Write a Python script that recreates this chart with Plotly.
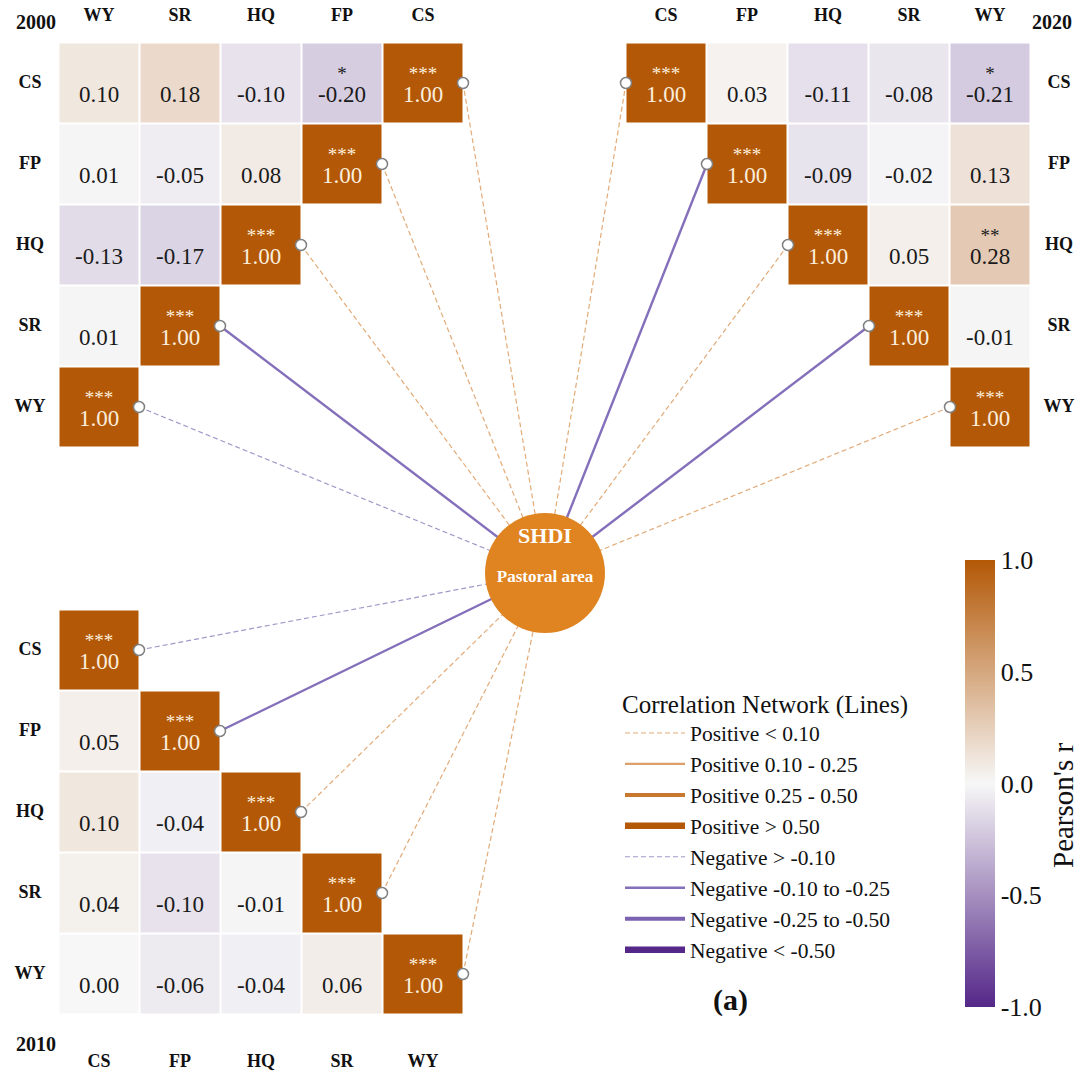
import plotly.graph_objects as go

# ---------------- data ----------------
VARS = ["CS", "FP", "HQ", "SR", "WY"]

cols_2000 = ["WY", "SR", "HQ", "FP", "CS"]
rows_2000 = ["CS", "FP", "HQ", "SR", "WY"]
r_2000 = [
    [0.10, 0.18, -0.10, -0.20, 1.00],
    [0.01, -0.05, 0.08, 1.00, None],
    [-0.13, -0.17, 1.00, None, None],
    [0.01, 1.00, None, None, None],
    [1.00, None, None, None, None],
]
sig_2000 = [
    ["", "", "", "*", "***"],
    ["", "", "", "***", ""],
    ["", "", "***", "", ""],
    ["", "***", "", "", ""],
    ["***", "", "", "", ""],
]

cols_2020 = ["CS", "FP", "HQ", "SR", "WY"]
rows_2020 = ["CS", "FP", "HQ", "SR", "WY"]
r_2020 = [
    [1.00, 0.03, -0.11, -0.08, -0.21],
    [None, 1.00, -0.09, -0.02, 0.13],
    [None, None, 1.00, 0.05, 0.28],
    [None, None, None, 1.00, -0.01],
    [None, None, None, None, 1.00],
]
sig_2020 = [
    ["***", "", "", "", "*"],
    ["", "***", "", "", ""],
    ["", "", "***", "", "**"],
    ["", "", "", "***", ""],
    ["", "", "", "", "***"],
]

cols_2010 = ["CS", "FP", "HQ", "SR", "WY"]
rows_2010 = ["CS", "FP", "HQ", "SR", "WY"]
r_2010 = [
    [1.00, None, None, None, None],
    [0.05, 1.00, None, None, None],
    [0.10, -0.04, 1.00, None, None],
    [0.04, -0.10, -0.01, 1.00, None],
    [0.00, -0.06, -0.04, 0.06, 1.00],
]
sig_2010 = [
    ["***", "", "", "", ""],
    ["", "***", "", "", ""],
    ["", "", "***", "", ""],
    ["", "", "", "***", ""],
    ["", "", "", "", "***"],
]

# SHDI (pastoral area) correlation with each service, estimated from line styles
shdi_2000 = [0.05, 0.04, 0.06, -0.15, -0.05]
shdi_2010 = [-0.06, -0.14, 0.07, 0.05, 0.03]
shdi_2020 = [0.05, -0.16, 0.04, -0.13, 0.06]

line_class_names = [
    "Positive < 0.10", "Positive 0.10 - 0.25", "Positive 0.25 - 0.50", "Positive > 0.50",
    "Negative > -0.10", "Negative -0.10 to -0.25", "Negative -0.25 to -0.50", "Negative < -0.50",
]
cbar_ticks = [-1.0, -0.5, 0.0, 0.5, 1.0]

# ---------------- styling / layout constants ----------------
W, H = 1080, 1074
PITCH = 81
HALF = 40
SERIF = "Liberation Serif, Times New Roman, serif"
CENTER = (545, 573)
COLORSCALE = [[0.0, "#542788"], [0.5, "#f7f7f7"], [1.0, "#b35806"]]

line_styles = [
    dict(color="#e2ab78", width=1.2, dash="5px,3px"),
    dict(color="#dea06a", width=2.2, dash="solid"),
    dict(color="#c9782f", width=4, dash="solid"),
    dict(color="#b35806", width=6.5, dash="solid"),
    dict(color="#a498c8", width=1.2, dash="5px,3px"),
    dict(color="#836fba", width=2.4, dash="solid"),
    dict(color="#7a62b0", width=4, dash="solid"),
    dict(color="#542788", width=6.5, dash="solid"),
]


def classify(r):
    if r >= 0:
        if r < 0.10:
            return 0
        if r < 0.25:
            return 1
        if r < 0.50:
            return 2
        return 3
    if r > -0.10:
        return 4
    if r > -0.25:
        return 5
    if r > -0.50:
        return 6
    return 7


panels = [
    dict(year="2000", cols=cols_2000, rows=rows_2000, r=r_2000, sig=sig_2000, shdi=shdi_2000,
         origin=(99, 83), conn_side=1, col_label_y=16, row_label_x=30, year_pos=(36, 24)),
    dict(year="2020", cols=cols_2020, rows=rows_2020, r=r_2020, sig=sig_2020, shdi=shdi_2020,
         origin=(666, 83), conn_side=-1, col_label_y=16, row_label_x=1059, year_pos=(1052, 24)),
    dict(year="2010", cols=cols_2010, rows=rows_2010, r=r_2010, sig=sig_2010, shdi=shdi_2010,
         origin=(99, 650), conn_side=1, col_label_y=1062, row_label_x=30, year_pos=(36, 1046)),
]

fig = go.Figure()

# heatmaps
for p in panels:
    ox, oy = p["origin"]
    fig.add_trace(go.Heatmap(
        z=p["r"], x0=ox, dx=PITCH, y0=oy, dy=PITCH,
        coloraxis="coloraxis", xgap=2, ygap=2, hoverinfo="skip",
    ))

# network lines grouped by class
seg_x = [[] for _ in line_class_names]
seg_y = [[] for _ in line_class_names]
conn_x, conn_y = [], []
for p in panels:
    ox, oy = p["origin"]
    for i, rv in enumerate(p["rows"]):
        j = p["cols"].index(rv)
        px = ox + j * PITCH + p["conn_side"] * HALF
        py = oy + i * PITCH
        k = VARS.index(rv)
        c = classify(p["shdi"][k])
        seg_x[c] += [px, CENTER[0], None]
        seg_y[c] += [py, CENTER[1], None]
        conn_x.append(px)
        conn_y.append(py)

for c, name in enumerate(line_class_names):
    st = line_styles[c]
    fig.add_trace(go.Scatter(
        x=seg_x[c] if seg_x[c] else [None], y=seg_y[c] if seg_y[c] else [None],
        mode="lines", name=name, line=st, hoverinfo="skip", showlegend=True,
    ))

# connector dots
fig.add_trace(go.Scatter(
    x=conn_x, y=conn_y, mode="markers", showlegend=False, hoverinfo="skip",
    marker=dict(size=11, color="white", line=dict(color="#808080", width=1.5)),
))

# cell texts
for p in panels:
    ox, oy = p["origin"]
    nx, ny, nt, nc = [], [], [], []
    sx, sy, stt, sc = [], [], [], []
    for i, rv in enumerate(p["rows"]):
        for j, cv in enumerate(p["cols"]):
            v = p["r"][i][j]
            if v is None:
                continue
            diag = rv == cv
            nx.append(ox + j * PITCH)
            ny.append(oy + i * PITCH + 13)
            nt.append(f"{v:.2f}")
            nc.append("#fbeedd" if diag else "#1a1a1a")
            s = p["sig"][i][j]
            if s:
                sx.append(ox + j * PITCH)
                sy.append(oy + i * PITCH - 8)
                stt.append(s)
                sc.append("#fbeedd" if diag else "#1a1a1a")
    fig.add_trace(go.Scatter(x=nx, y=ny, text=nt, mode="text", showlegend=False, hoverinfo="skip",
                             textfont=dict(family=SERIF, size=23, color=nc)))
    fig.add_trace(go.Scatter(x=sx, y=sy, text=stt, mode="text", showlegend=False, hoverinfo="skip",
                             textfont=dict(family=SERIF, size=19, color=sc)))
    # axis labels
    fig.add_trace(go.Scatter(
        x=[ox + j * PITCH for j in range(len(p["cols"]))],
        y=[p["col_label_y"]] * len(p["cols"]), text=p["cols"], mode="text",
        showlegend=False, hoverinfo="skip",
        textfont=dict(family=SERIF, size=18, color="#111", weight="bold")))
    fig.add_trace(go.Scatter(
        x=[p["row_label_x"]] * len(p["rows"]),
        y=[oy + i * PITCH for i in range(len(p["rows"]))], text=p["rows"], mode="text",
        showlegend=False, hoverinfo="skip",
        textfont=dict(family=SERIF, size=18, color="#111", weight="bold")))
    fig.add_trace(go.Scatter(
        x=[p["year_pos"][0]], y=[p["year_pos"][1]], text=[p["year"]], mode="text",
        showlegend=False, hoverinfo="skip",
        textfont=dict(family=SERIF, size=20, color="#111", weight="bold")))

# central node
fig.add_trace(go.Scatter(
    x=[CENTER[0]], y=[CENTER[1]], mode="markers", showlegend=False, hoverinfo="skip",
    marker=dict(size=120, color="#df8420", line=dict(width=0)),
))
fig.add_trace(go.Scatter(
    x=[CENTER[0], CENTER[0]], y=[CENTER[1] - 36, CENTER[1] + 5],
    text=["SHDI", "Pastoral area"], mode="text", showlegend=False, hoverinfo="skip",
    textfont=dict(family=SERIF, size=[22, 17], color="white", weight="bold"),
))

fig.add_annotation(x=730, y=1000, text="<b>(a)</b>", showarrow=False,
                   font=dict(family=SERIF, size=30, color="#111"), xref="x", yref="y")
# colorbar title
fig.add_annotation(x=1063, y=805, text="Pearson's r", textangle=-90, showarrow=False,
                   font=dict(family=SERIF, size=29, color="#111"), xref="x", yref="y")

fig.update_layout(
    width=W, height=H,
    margin=dict(l=0, r=0, t=0, b=0, autoexpand=False),
    paper_bgcolor="white", plot_bgcolor="white",
    xaxis=dict(range=[0, W], visible=False, fixedrange=True),
    yaxis=dict(range=[H, 0], visible=False, fixedrange=True),
    coloraxis=dict(
        colorscale=COLORSCALE, cmin=-1, cmax=1,
        colorbar=dict(
            lenmode="pixels", len=447, thicknessmode="pixels", thickness=30,
            x=965 / W, xanchor="left", y=1 - 783.5 / H, yanchor="middle",
            xpad=0, ypad=0,
            outlinewidth=0, ticks="",
            tickvals=cbar_ticks, ticktext=[f"{t:.1f}" for t in cbar_ticks],
            tickfont=dict(family=SERIF, size=26, color="#111"),
        ),
    ),
    legend=dict(
        x=620 / W, y=1 - 680 / H, xanchor="left", yanchor="top",
        bgcolor="rgba(0,0,0,0)", itemwidth=60,
        font=dict(family=SERIF, size=21.5, color="#111"),
        title=dict(text="Correlation Network (Lines)", font=dict(family=SERIF, size=25, color="#111")),
        traceorder="normal",
    ),
    showlegend=True,
)

fig.write_html("out.html", config={"displayModeBar": False},
               post_script="document.body.style.margin='0';document.body.style.overflow='hidden';")
